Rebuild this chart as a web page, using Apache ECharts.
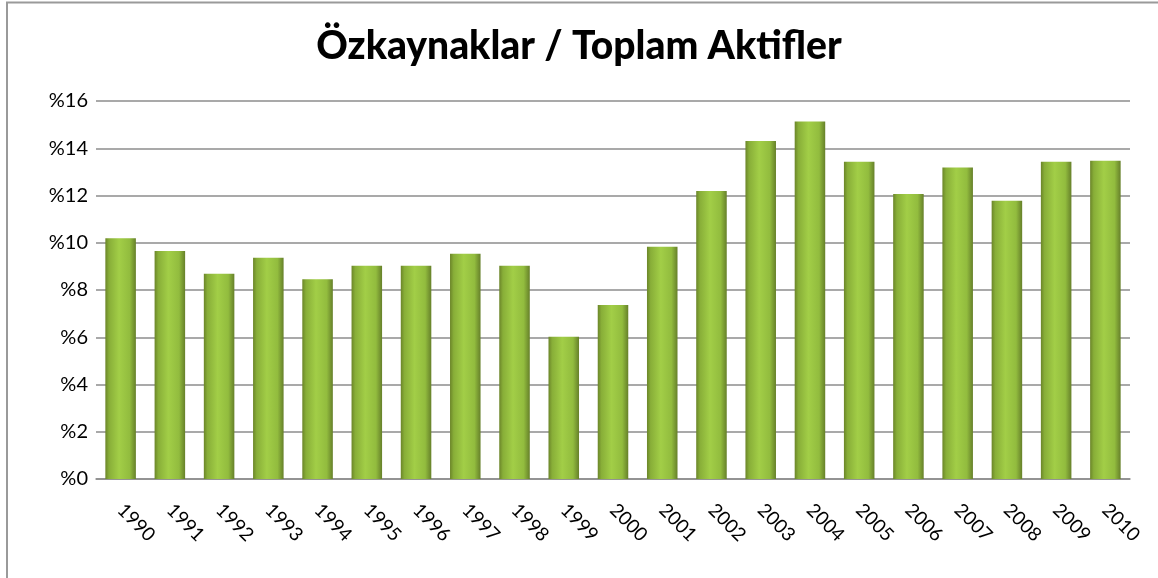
<!DOCTYPE html>
<html>
<head>
<meta charset="utf-8">
<script src="https://cdn.jsdelivr.net/npm/echarts@6/dist/echarts.min.js"></script>
<style>
  html, body { margin: 0; padding: 0; background: #fff; }
  #main { width: 1158px; height: 578px; }
</style>
</head>
<body>
<div id="main"></div>
<script>
// yillar ve oranlar (%)
let years = ['1990', '1991', '1992', '1993', '1994', '1995', '1996', '1997', '1998', '1999', '2000',
    '2001', '2002', '2003', '2004', '2005', '2006', '2007', '2008', '2009', '2010'];
let ratios = [10.19, 9.65, 8.69, 9.36, 8.46, 9.03, 9.03, 9.53, 9.03, 6.02, 7.36,
    9.83, 12.19, 14.31, 15.13, 13.43, 12.06, 13.18, 11.78, 13.43, 13.47];
let yTicks = [0, 2, 4, 6, 8, 10, 12, 14, 16];

let myChart = echarts.init(document.getElementById('main'));

let option = {
    backgroundColor: '#fff',
    title: {
        text: 'Özkaynaklar / Toplam Aktifler',
        left: 'center',
        top: 22,
        textStyle: {
            fontFamily: 'Lato',
            fontWeight: 900,
            fontSize: 39,
            color: '#000'
        }
    },
    graphic: [
        {
            type: 'rect',
            shape: {x: 7, y: 2.5, width: 1200, height: 650},
            style: {fill: 'none', stroke: '#9a9a9a', lineWidth: 2},
            silent: true
        }
    ],
    grid: {
        left: 96,
        right: 28,
        top: 101,
        bottom: 99
    },
    xAxis: {
        type: 'category',
        data: years,
        axisLine: {lineStyle: {color: '#8c8c8c', width: 1.5}},
        axisTick: {show: false},
        axisLabel: {
            rotate: -45,
            margin: 28,
            color: '#000',
            fontFamily: 'Lato',
            fontSize: 19
        }
    },
    yAxis: {
        type: 'value',
        min: yTicks[0],
        max: yTicks[yTicks.length - 1],
        interval: 2,
        axisLine: {show: false},
        axisTick: {show: false},
        splitLine: {lineStyle: {color: '#8c8c8c', width: 1.5}},
        axisLabel: {
            margin: 8,
            color: '#000',
            fontFamily: 'Lato',
            fontSize: 20,
            formatter: function (v) { return '%' + v; }
        }
    },
    series: [
        {
            type: 'bar',
            data: ratios,
            barCategoryGap: '38%',
            itemStyle: {
                color: new echarts.graphic.LinearGradient(0, 0, 1, 0, [
                    {offset: 0, color: '#6b8529'},
                    {offset: 0.12, color: '#88ae38'},
                    {offset: 0.45, color: '#a2ce47'},
                    {offset: 0.8, color: '#92bc3e'},
                    {offset: 1, color: '#66802a'}
                ]),
                shadowColor: 'rgba(0,0,0,0.3)',
                shadowBlur: 3,
                shadowOffsetX: 2
            }
        }
    ]
};

myChart.setOption(option);
</script>
</body>
</html>
